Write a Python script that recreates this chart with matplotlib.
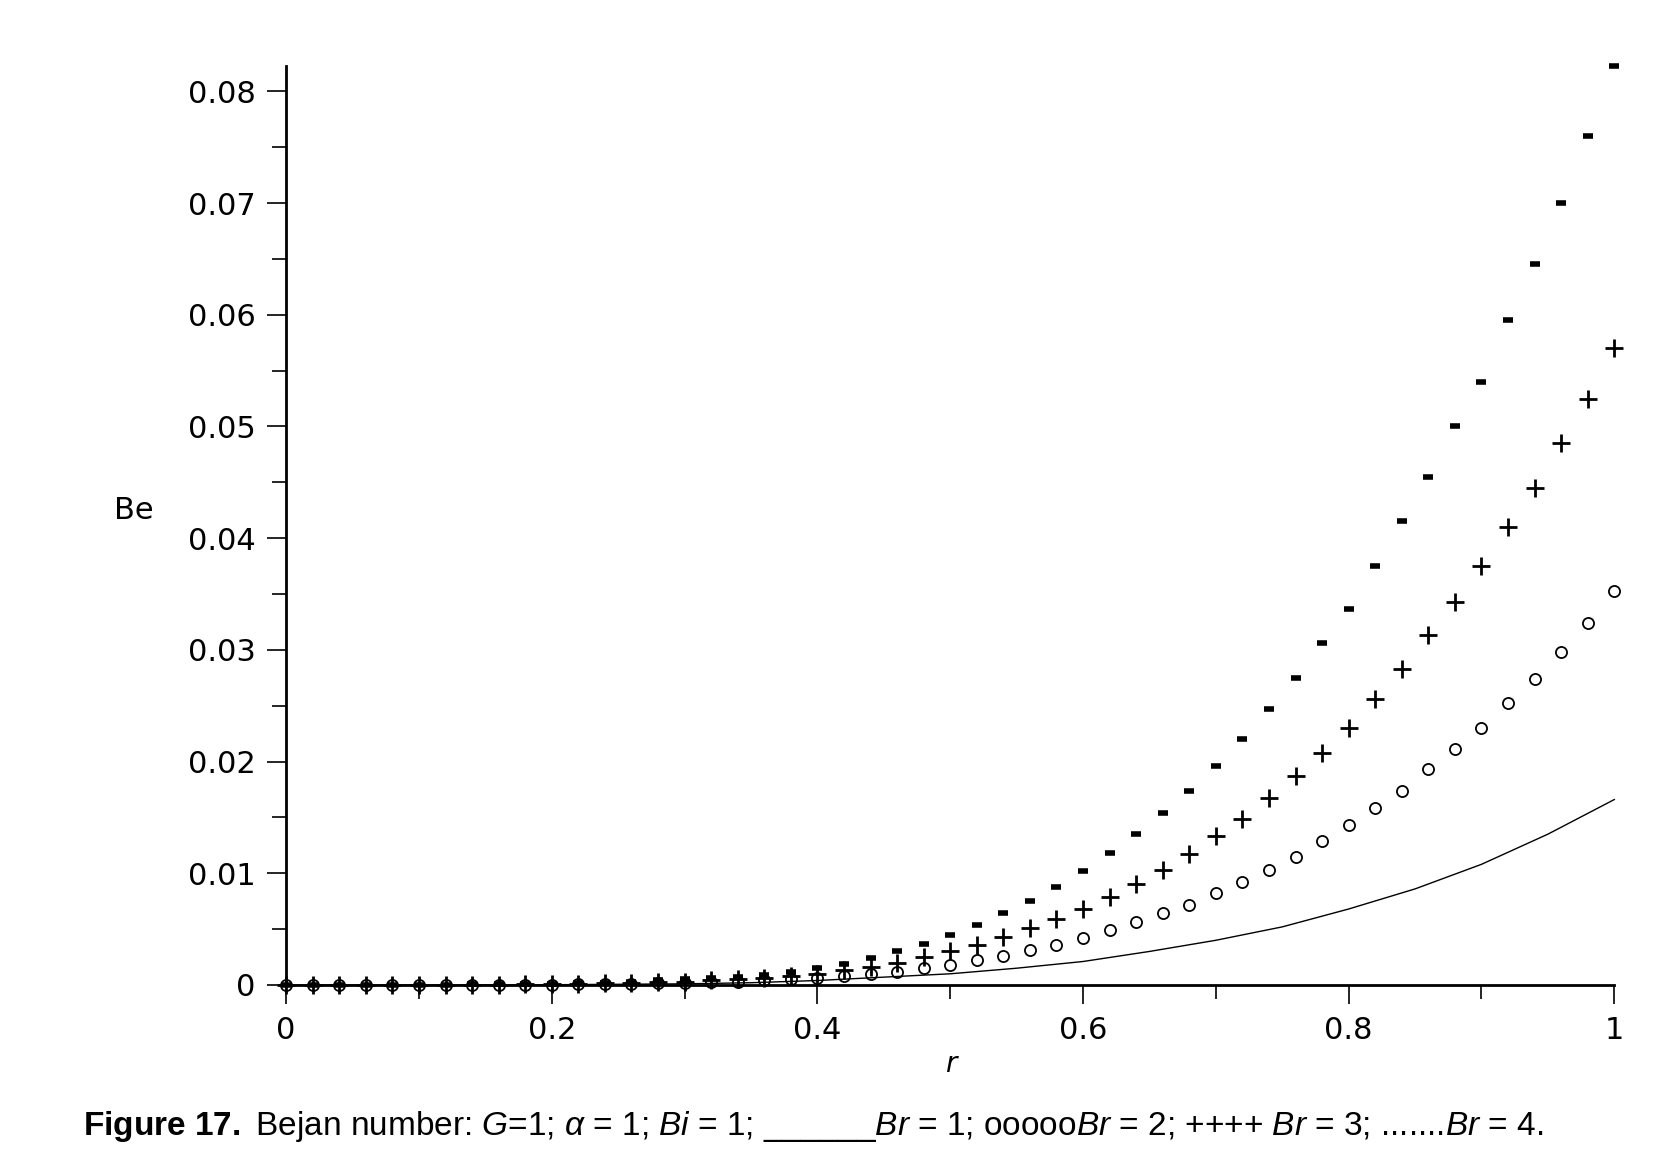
import matplotlib.pyplot as plt
import numpy as np
from matplotlib.ticker import MultipleLocator

plt.rcParams['mathtext.fontset'] = 'custom'
plt.rcParams['mathtext.it'] = 'Liberation Sans:italic'
plt.rcParams['mathtext.rm'] = 'Liberation Sans'
plt.rcParams['mathtext.bf'] = 'Liberation Sans:bold'

r_pts = [round(0.02 * i, 2) for i in range(51)]
be_br4 = [0, 0, 0, 0, 0, 0, 0, 0.0001, 0.0001, 0.0001,
          0.0001, 0.0002, 0.0002, 0.0003, 0.0004, 0.0005, 0.0006, 0.0007, 0.0009, 0.0012,
          0.0015, 0.0019, 0.0024, 0.0030, 0.0037, 0.0045, 0.0054, 0.0064, 0.0075, 0.0088,
          0.0102, 0.0118, 0.0135, 0.0154, 0.0174, 0.0196, 0.0220, 0.0247, 0.0275, 0.0306,
          0.0337, 0.0375, 0.0415, 0.0455, 0.0500, 0.0540, 0.0595, 0.0645, 0.0700, 0.0760,
          0.0823]
be_br3 = [0, 0, 0, 0, 0, 0, 0, 0, 0, 0.0001,
          0.0001, 0.0001, 0.0002, 0.0002, 0.0003, 0.0003, 0.0004, 0.0005, 0.0006, 0.0008,
          0.0010, 0.0013, 0.0016, 0.0020, 0.0025, 0.0030, 0.0036, 0.0043, 0.0051, 0.0059,
          0.0068, 0.0079, 0.0090, 0.0103, 0.0117, 0.0133, 0.0149, 0.0167, 0.0187, 0.0208,
          0.0230, 0.0256, 0.0283, 0.0313, 0.0343, 0.0375, 0.0410, 0.0445, 0.0485, 0.0525,
          0.0570]
be_br2 = [0, 0, 0, 0, 0, 0, 0, 0, 0, 0,
          0, 0.0001, 0.0001, 0.0001, 0.0002, 0.0002, 0.0003, 0.0003, 0.0004, 0.0005,
          0.0006, 0.0008, 0.0010, 0.0012, 0.0015, 0.0018, 0.0022, 0.0026, 0.0031, 0.0036,
          0.0042, 0.0049, 0.0056, 0.0064, 0.0072, 0.0082, 0.0092, 0.0103, 0.0115, 0.0129,
          0.0143, 0.0158, 0.0174, 0.0193, 0.0211, 0.0230, 0.0252, 0.0274, 0.0298, 0.0324,
          0.0353]
r_line = [0, 0.1, 0.2, 0.3, 0.35, 0.4, 0.45, 0.5, 0.55, 0.6, 0.65, 0.7, 0.75, 0.8, 0.85, 0.9, 0.95, 1.0]
be_br1 = [0, 0, 0.00002, 0.0001, 0.0002, 0.0004, 0.0007, 0.0010, 0.0015, 0.0021, 0.0030,
          0.0040, 0.0052, 0.0068, 0.0086, 0.0108, 0.0135, 0.0166]
x_ticks = [0, 0.2, 0.4, 0.6, 0.8, 1.0]
x_labels = ['0', '0.2', '0.4', '0.6', '0.8', '1']
y_ticks = [0, 0.01, 0.02, 0.03, 0.04, 0.05, 0.06, 0.07, 0.08]
y_labels = ['0', '0.01', '0.02', '0.03', '0.04', '0.05', '0.06', '0.07', '0.08']

fig = plt.figure(figsize=(16.54, 11.52), dpi=100)
ax = fig.add_axes([0.173, 0.145, 0.803, 0.798])

ax.plot(r_line, be_br1, color='black', lw=1.0, clip_on=False)
ax.plot(r_pts, be_br2, ls='none', marker='o', ms=8, mfc='none', mec='black', mew=1.3, clip_on=False)
ax.plot(r_pts, be_br3, ls='none', marker='+', ms=13, mec='black', mew=2, clip_on=False)
ax.plot(r_pts, be_br4, ls='none', marker='_', ms=7, mec='black', mew=4, clip_on=False)

ax.set_xlim(0, 1)
ax.set_ylim(0, 0.0823)
for s in ['top', 'right']:
    ax.spines[s].set_visible(False)
for s in ['left', 'bottom']:
    ax.spines[s].set_linewidth(2)
ax.set_xticks(x_ticks)
ax.set_xticklabels(x_labels)
ax.xaxis.set_minor_locator(MultipleLocator(0.1))
ax.set_yticks(y_ticks)
ax.set_yticklabels(y_labels)
ax.yaxis.set_minor_locator(MultipleLocator(0.005))
ax.tick_params(which='major', length=14, width=1.2, labelsize=22, direction='out', pad=8)
ax.tick_params(which='minor', length=10, width=1.2, direction='out')
ax.set_xlabel('r', fontsize=20, style='italic')
ax.set_ylabel('Be', fontsize=22, rotation=0)
ax.yaxis.set_label_coords(-0.115, 0.5)

fig.text(0.05, 0.015, r'$\mathbf{Figure\ 17.}$ Bejan number: $G$=1; $\alpha$ = 1; $Bi$ = 1; ______$Br$ = 1; ooooo$Br$ = 2; ++++ $Br$ = 3; .......$Br$ = 4.',
         fontsize=24, family='Liberation Sans')
plt.savefig('out.png', dpi=100)
